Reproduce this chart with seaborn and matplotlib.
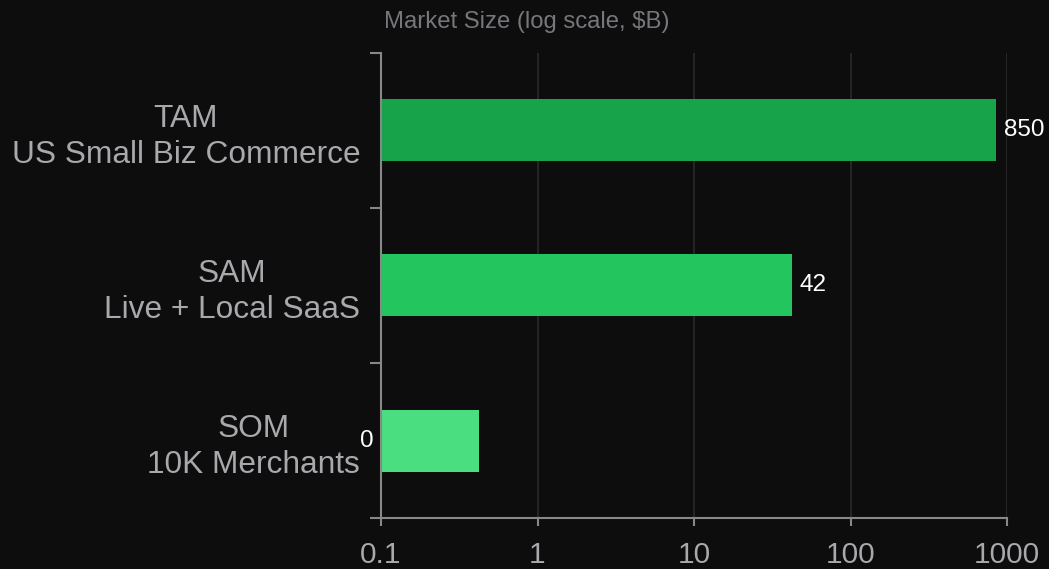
import seaborn as sns
import matplotlib.pyplot as plt
import matplotlib.ticker as mticker

# Datos del mercado (miles de millones USD)
segments = ["TAM\nUS Small Biz Commerce", "SAM\nLive + Local SaaS", "SOM\n10K Merchants"]
market_size = [850, 42, 0.42]
bar_colors = ["#16a34a", "#22c55e", "#4ade80"]
x_ticks = [0.1, 1, 10, 100, 1000]
x_tick_labels = ["0.1", "1", "10", "100", "1000"]

bg = "#0d0d0d"
plt.rcParams["font.family"] = ["Liberation Sans", "DejaVu Sans"]

fig = plt.figure(figsize=(10.49, 5.69), dpi=100, facecolor=bg)
ax = fig.add_axes([0.3632, 0.0896, 0.5968, 0.8173])
ax.set_facecolor(bg)
ax.set_xscale("log")

sns.barplot(x=market_size, y=segments, hue=segments, palette=bar_colors,
            orient="h", width=0.4, legend=False, saturation=1, ax=ax)

ax.set_xlim(0.1, 1000)
ax.set_ylim(2.5, -0.5)
ax.xaxis.set_major_locator(mticker.FixedLocator(x_ticks))
ax.xaxis.set_major_formatter(mticker.FixedFormatter(x_tick_labels))
ax.xaxis.set_minor_locator(mticker.NullLocator())
ax.grid(axis="x", color="#2b2b2b", linewidth=1.2)
ax.set_axisbelow(True)

# etiquetas del eje y centradas, marcas en los limites de cada categoria
ax.set_yticks(range(len(segments)))
ax.set_yticklabels(segments, linespacing=1.25)
for lbl in ax.get_yticklabels():
    lbl.set_multialignment("center")
ax.tick_params(axis="y", which="major", length=0, pad=15, labelsize=22.8, labelcolor="#a8a8ad")
ax.set_yticks([-0.5, 0.5, 1.5, 2.5], minor=True)
ax.tick_params(axis="y", which="minor", length=8, width=1.5, color="#888888")
ax.tick_params(axis="x", which="major", length=6, width=1.5, color="#888888",
               pad=10.5, labelsize=21.5, labelcolor="#a8a8ad")

for side in ["top", "right"]:
    ax.spines[side].set_visible(False)
for side in ["left", "bottom"]:
    ax.spines[side].set_color("#888888")
    ax.spines[side].set_linewidth(1.5)

ax.set_xlabel("")
ax.set_ylabel("")
ax.set_title("Market Size (log scale, $B)", loc="left", x=0.005, pad=18,
             fontsize=17.2, color="#77777b")

# valores al final de cada barra
for i, v in enumerate(market_size):
    txt = f"{round(v):d}"
    if round(v) == 0:
        ax.annotate(txt, (ax.get_xlim()[0], i), xytext=(-5, 0), textcoords="offset points",
                    ha="right", va="center", color="white", fontsize=17.5, annotation_clip=False)
    else:
        ax.annotate(txt, (v, i), xytext=(6, 0), textcoords="offset points",
                    ha="left", va="center", color="white", fontsize=17.5, annotation_clip=False)

fig.savefig("out.png", dpi=100, facecolor=bg)
